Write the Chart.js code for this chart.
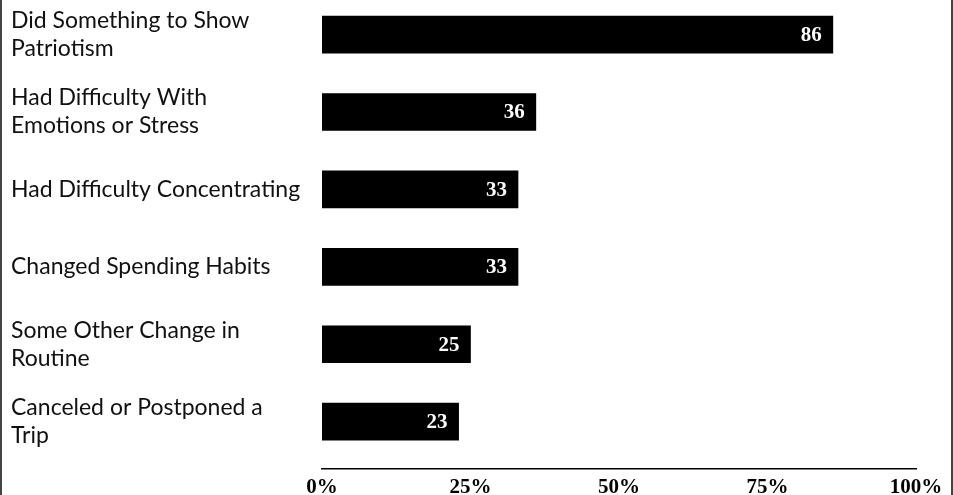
<!DOCTYPE html>
<html>
<head>
<meta charset="utf-8">
<script src="https://cdn.jsdelivr.net/npm/chart.js@4"></script>
<style>
  html, body { margin: 0; padding: 0; background: #fff; }
  #wrap { position: relative; width: 953px; height: 495px; overflow: hidden; }
  #wrap canvas { position: absolute; left: 0; top: 0; }
  .edge { position: absolute; top: 0; width: 2px; height: 495px; background: #444; }
</style>
</head>
<body>
<div id="wrap">
  <canvas id="c" width="953" height="495"></canvas>
  <div class="edge" style="left:0"></div>
  <div class="edge" style="left:951px"></div>
</div>
<script>
const categories = [
  ["Did Something to Show", "Patriotism"],
  ["Had Difficulty With", "Emotions or Stress"],
  ["Had Difficulty Concentrating"],
  ["Changed Spending Habits"],
  ["Some Other Change in", "Routine"],
  ["Canceled or Postponed a", "Trip"]
];
const values = [86, 36, 33, 33, 25, 23];
const tickValues = [0, 25, 50, 75, 100];

const points = values.map((v, i) => ({ x: v, y: i }));
const Y_MIN = -0.447, Y_MAX = 5.612;

const valueLabels = {
  id: 'valueLabels',
  afterDatasetsDraw(chart) {
    const ctx = chart.ctx;
    const meta = chart.getDatasetMeta(0);
    ctx.save();
    ctx.fillStyle = '#fff';
    ctx.font = 'bold 21px "Liberation Serif", serif';
    ctx.textAlign = 'right';
    ctx.textBaseline = 'middle';
    meta.data.forEach((bar, i) => {
      ctx.fillText(String(values[i]), bar.x - 11, bar.y + 1);
    });
    ctx.restore();
  }
};

new Chart(document.getElementById('c'), {
  type: 'bar',
  data: {
    datasets: [{
      data: points,
      backgroundColor: '#000',
      borderWidth: 0,
      barThickness: 37
    }]
  },
  options: {
    indexAxis: 'y',
    responsive: false,
    animation: false,
    devicePixelRatio: 1,
    layout: { padding: { left: 11, right: 37, top: 0, bottom: 0 } },
    plugins: { legend: { display: false }, tooltip: { enabled: false } },
    scales: {
      x: {
        type: 'linear',
        min: 0,
        max: 100,
        bounds: 'data',
        afterBuildTicks: s => { s.ticks = tickValues.map(v => ({ value: v })); s.min = 0; s.max = 100; },
        ticks: {
          color: '#000',
          padding: 6,
          font: { family: '"Liberation Serif", serif', size: 21, weight: 'bold' },
          callback: v => v + '%',
          maxRotation: 0,
          autoSkip: false
        },
        grid: { display: false, drawTicks: false },
        border: { display: true, color: '#000', width: 1.5 },
        afterFit: s => { s.height = 26; }
      },
      y: {
        type: 'linear',
        reverse: true,
        offset: false,
        min: Y_MIN,
        max: Y_MAX,
        bounds: 'data',
        afterBuildTicks: s => {
          s.ticks = categories.map((c, i) => ({ value: i }));
          s.min = Y_MIN; s.max = Y_MAX;
        },
        ticks: {
          color: '#111',
          crossAlign: 'far',
          autoSkip: false,
          font: { family: 'Lato, "Open Sans", sans-serif', size: 23, lineHeight: 1.22 },
          callback: v => categories[v]
        },
        grid: { display: false, drawTicks: false },
        border: { display: false },
        afterFit: s => { s.width = 311; s.paddingTop = 0; s.paddingBottom = 0; }
      }
    }
  },
  plugins: [valueLabels]
});
</script>
</body>
</html>
